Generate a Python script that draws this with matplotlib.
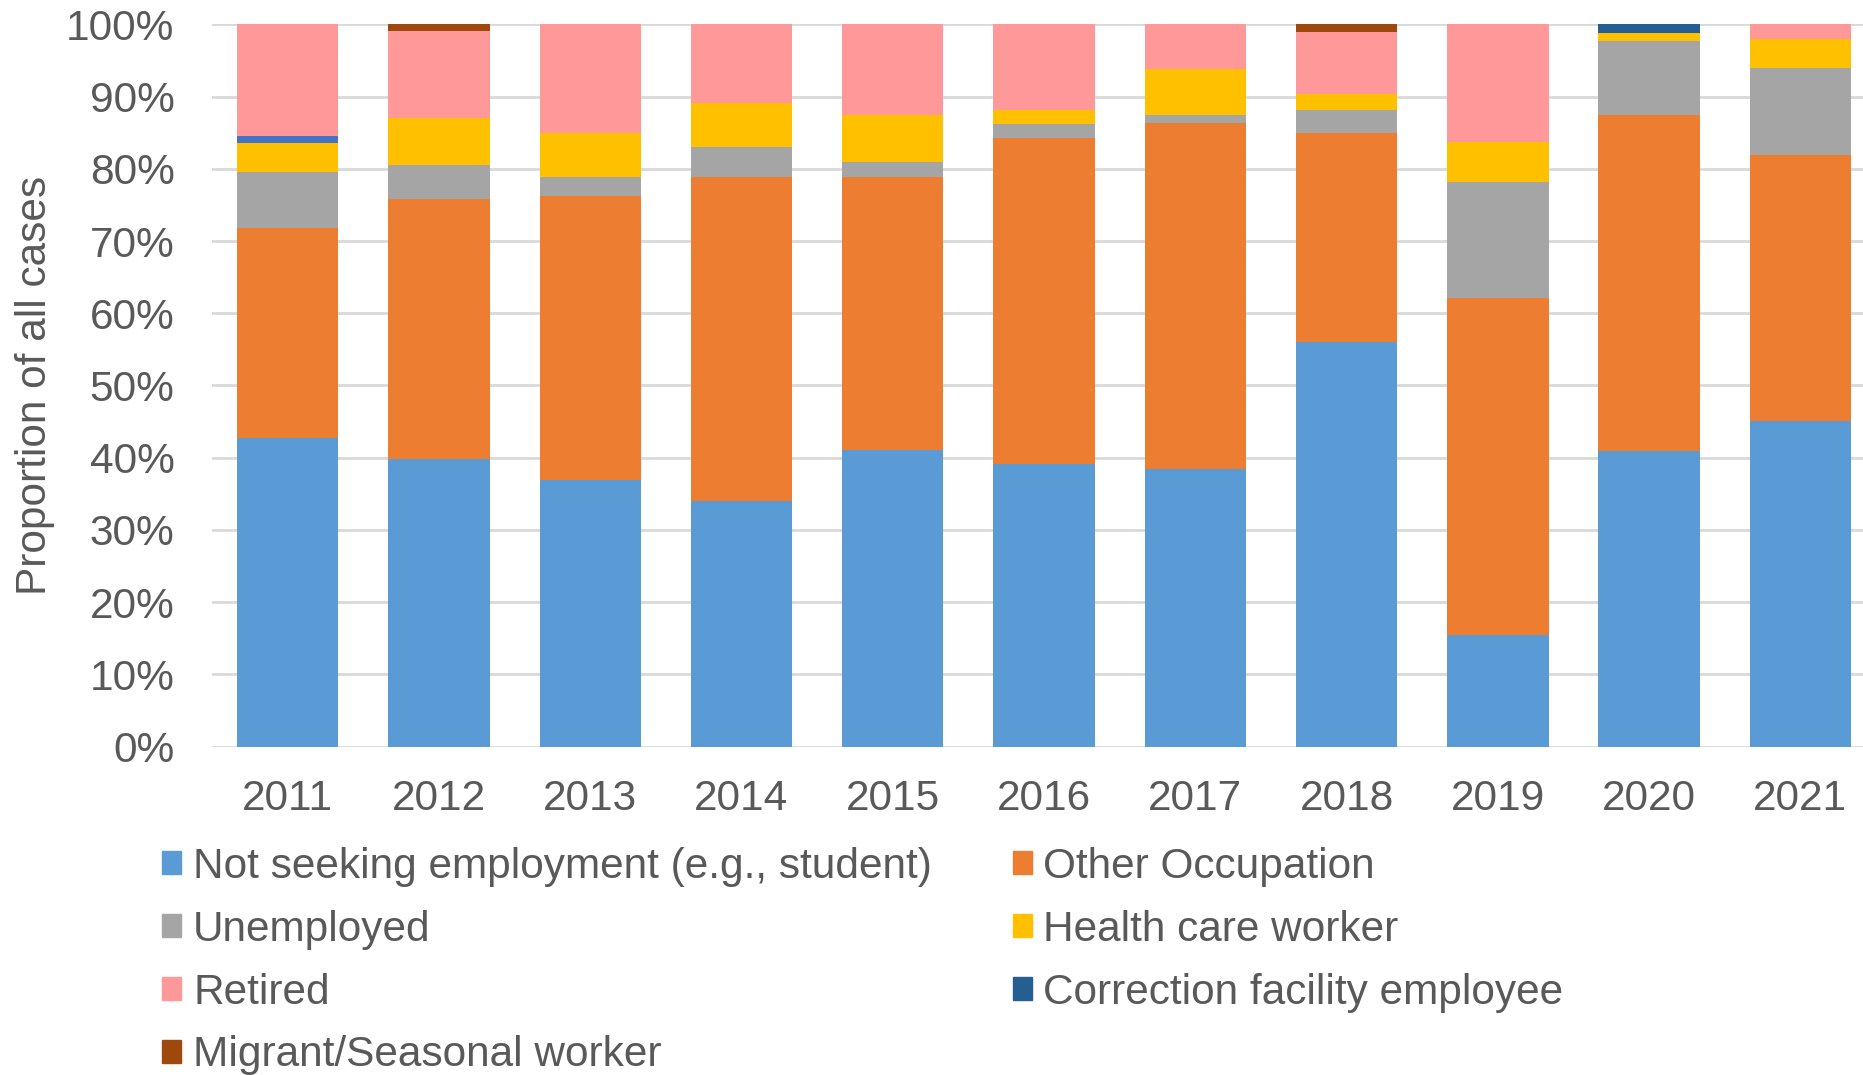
import numpy as np
import matplotlib.pyplot as plt
from matplotlib.patches import Patch

years = ['2011', '2012', '2013', '2014', '2015', '2016', '2017', '2018', '2019', '2020', '2021']

# percent of all cases per year, stacked bottom to top
not_seeking = [42.7, 39.8, 36.9, 34.0, 41.1, 39.2, 38.5, 56.0, 15.5, 40.9, 45.1]
other_occ = [29.1, 36.0, 39.4, 44.9, 37.8, 45.1, 47.9, 28.9, 46.6, 46.6, 36.8]
unemployed = [7.8, 4.7, 2.6, 4.1, 2.1, 1.9, 1.1, 3.3, 16.1, 10.2, 12.1]
health_care = [3.9, 6.5, 6.1, 6.1, 6.4, 2.0, 6.3, 2.1, 5.5, 1.1, 4.0]
unlisted = [1.0, 0, 0, 0, 0, 0, 0, 0, 0, 0, 0]  # series with no legend entry
retired = [15.5, 12.1, 15.0, 10.9, 12.6, 11.8, 6.2, 8.6, 16.3, 0, 2.0]
correction = [0, 0, 0, 0, 0, 0, 0, 0, 0, 1.2, 0]
migrant = [0, 0.9, 0, 0, 0, 0, 0, 1.1, 0, 0, 0]

series = [
    ('Not seeking employment (e.g., student)', not_seeking, '#5B9BD5'),
    ('Other Occupation', other_occ, '#ED7D31'),
    ('Unemployed', unemployed, '#A5A5A5'),
    ('Health care worker', health_care, '#FFC000'),
    ('_nolegend_', unlisted, '#4472C4'),
    ('Retired', retired, '#FF9999'),
    ('Correction facility employee', correction, '#255E91'),
    ('Migrant/Seasonal worker', migrant, '#9E480E'),
]

plt.rcParams['font.family'] = ['Liberation Sans', 'DejaVu Sans']
text_col = '#595959'
fs = 30.5

fig = plt.figure(figsize=(18.63, 10.75), dpi=100)
ax = fig.add_axes([0.1138, 0.3054, 0.8932, 0.672])

x = np.arange(len(years))
bottom = np.zeros(len(years))
handles = {}
for name, vals, col in series:
    vals = np.array(vals) / 100
    ax.bar(x, vals, 0.67, bottom=bottom, color=col, zorder=3, linewidth=0)
    bottom += vals
    handles[name] = Patch(color=col)

ax.set_xlim(-0.5, len(years) - 0.5)
ax.set_ylim(0, 1)
ax.set_yticks(np.arange(0, 1.01, 0.1))
ax.set_yticklabels(['{}%'.format(int(round(v * 100))) for v in np.arange(0, 1.01, 0.1)])
ax.set_xticks(x)
ax.set_xticklabels(years)
ax.tick_params(axis='both', length=0, labelsize=fs, colors=text_col)
ax.tick_params(axis='x', pad=23)
ax.tick_params(axis='y', pad=27)
ax.grid(axis='y', color='#D9D9D9', linewidth=2, zorder=0)
ax.set_axisbelow(True)
for s in ax.spines.values():
    s.set_visible(False)
ax.set_ylabel('Proportion of all cases', fontsize=fs, color=text_col, labelpad=8)

order = ['Not seeking employment (e.g., student)', 'Unemployed', 'Retired', 'Migrant/Seasonal worker',
         'Other Occupation', 'Health care worker', 'Correction facility employee']
fig.legend([handles[n] for n in order], order, ncol=2, loc='upper left',
           bbox_to_anchor=(0.078, 0.228), frameon=False, fontsize=fs,
           labelcolor=text_col, handlelength=0.45, handleheight=0.45, handletextpad=0.28,
           columnspacing=1.9, labelspacing=0.54, borderaxespad=0)

fig.savefig('out.png', dpi=100)
